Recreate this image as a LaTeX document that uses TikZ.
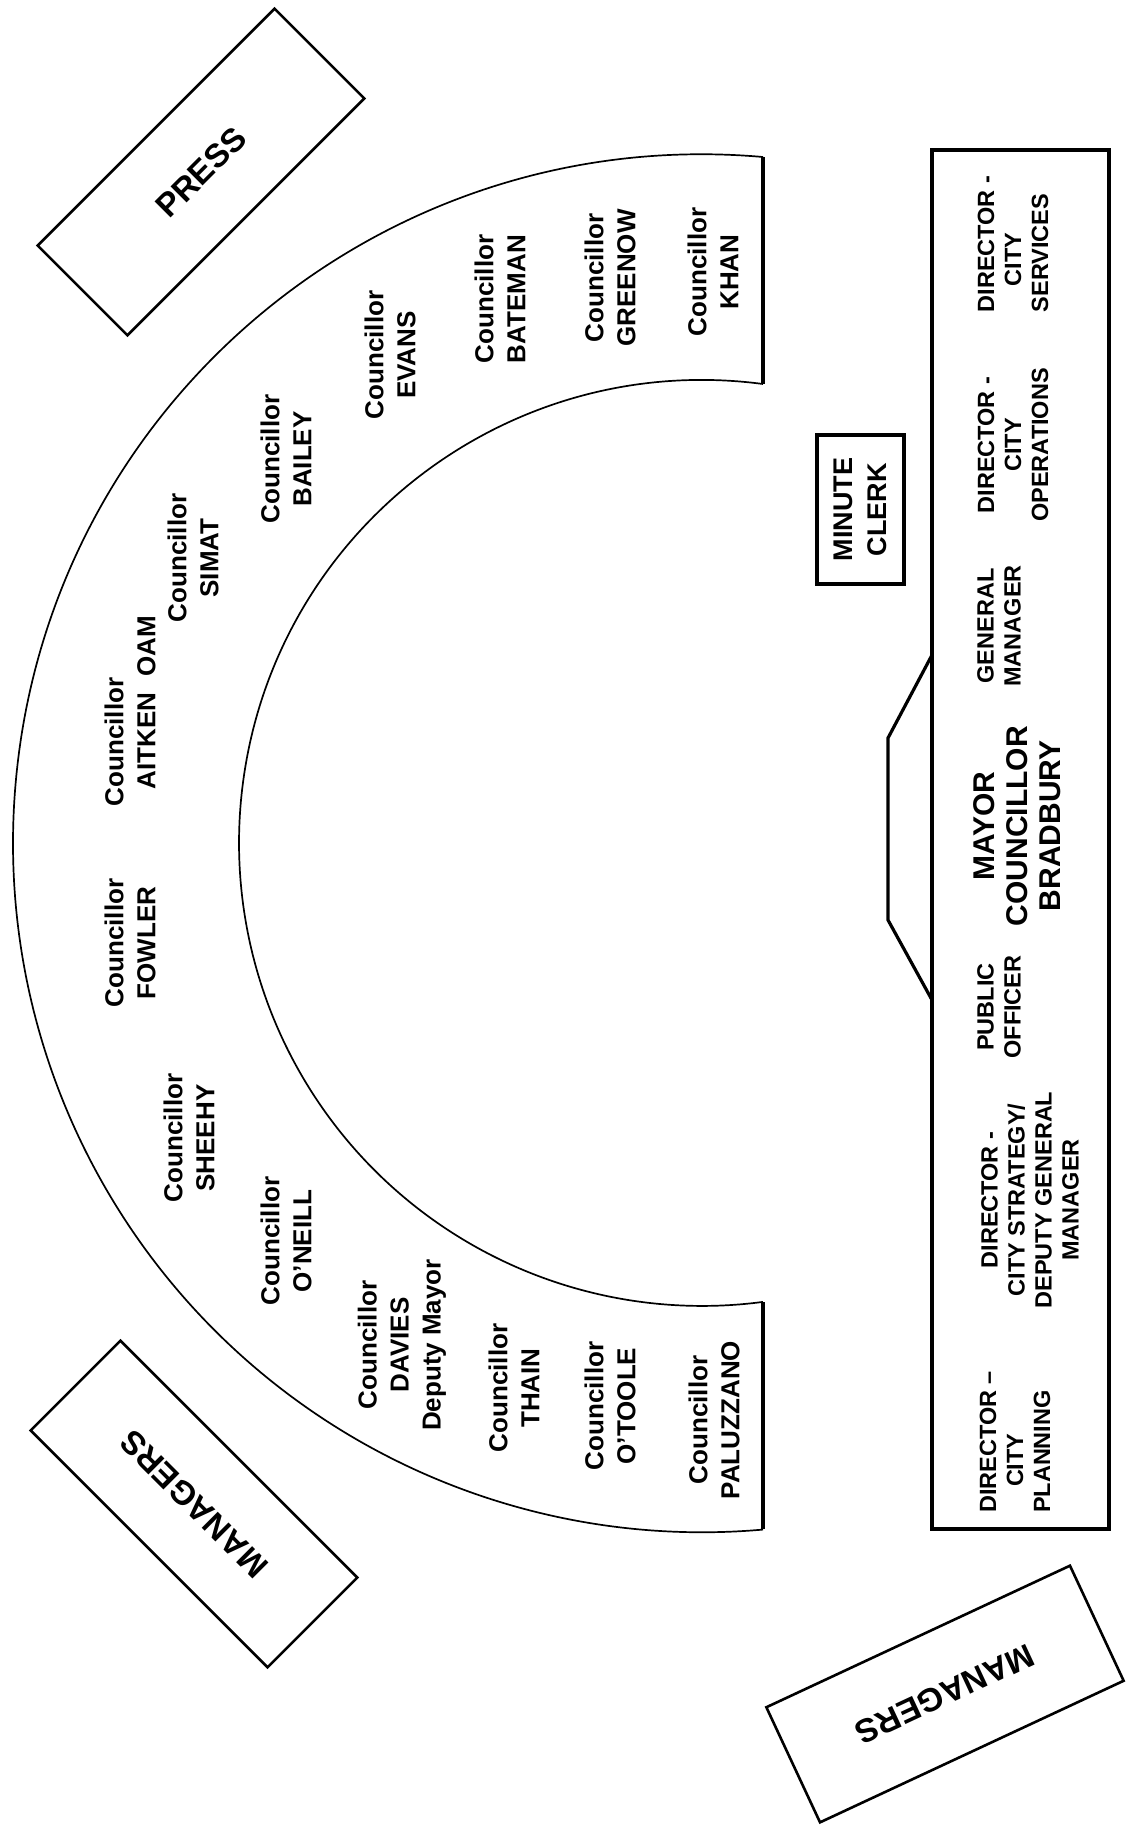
\documentclass[tikz,border=0pt]{standalone}
\usepackage{fontspec}
\setmainfont{Liberation Sans}
\newcommand\seatfont{\bfseries\fontsize{13}{16}\selectfont}
\newcommand\stafffont{\bfseries\fontsize{11.75}{13.5}\selectfont}
\newcommand\mayorfont{\bfseries\fontsize{15}{16.5}\selectfont}
\newcommand\clerkfont{\bfseries\fontsize{13.5}{17}\selectfont}
\newcommand\sidefont{\bfseries\fontsize{16.5}{20}\selectfont}
\tikzset{
  seat/.style={font=\seatfont, align=center, rotate=90, inner sep=0pt},
  staff/.style={font=\stafffont, align=center, rotate=90, inner sep=0pt},
  sidebox/.style={draw, line width=1.3pt, minimum width=167.5pt, minimum height=63.5pt, font=\sidefont, inner sep=0pt},
  thinline/.style={line width=0.85pt},
  thickline/.style={line width=1.6pt}
}

\begin{document}
\begin{tikzpicture}[x=0.5pt, y=-0.5pt]
  \useasboundingbox (0,0) rectangle (1131,1832);
  % horseshoe
  \draw[thinline] (763,157) arc[start angle=-84.92, end angle=-275.08, radius=689];
  \draw[thinline] (763,384) arc[start angle=-82.43, end angle=-277.57, radius=463];
  \draw[thickline] (763,157) -- (763,384);
  \draw[thickline] (763,1302) -- (763,1529);
  \node (khan) [seat] at (713,272) {Councillor\\KHAN};
  \node (greenow) [seat] at (610,278) {Councillor\\GREENOW};
  \node (bateman) [seat] at (500,299) {Councillor\\BATEMAN};
  \node (evans) [seat] at (390,355) {Councillor\\EVANS};
  \node (bailey) [seat] at (286,459) {Councillor\\BAILEY};
  \node (simat) [seat] at (193,558) {Councillor\\SIMAT};
  \node (aitken) [seat, align=left] at (130,711) {Councillor\\\hspace*{8.5pt}AITKEN\hspace{8pt}OAM};
  \node (fowler) [seat] at (130,943) {Councillor\\FOWLER};
  \node (sheehy) [seat] at (189,1138) {Councillor\\SHEEHY};
  \node (oneill) [seat] at (286,1241) {Councillor\\O'NEILL};
  \node (davies) [seat] at (402,1345) {Councillor\\DAVIES\\Deputy Mayor};
  \node (thain) [seat] at (514,1388) {Councillor\\THAIN};
  \node (otoole) [seat] at (610,1406) {Councillor\\O'TOOLE};
  \node (paluzzano) [seat] at (714,1420) {Councillor\\PALUZZANO};
  % top table
  \draw[thickline] (932,150) rectangle (1109,1529);
  \draw[thickline] (932,655) -- (888,738) -- (888,920) -- (932,1000);
  \node (clerk) [draw, thickline, rotate=90, align=center, font=\clerkfont, minimum width=74.5pt, minimum height=43.5pt, inner sep=0pt] at (860.5,509.5) {MINUTE\\CLERK};
  \node (services) [staff, align=left] at (1013,244) {DIRECTOR -\\\hspace*{13pt}CITY\\SERVICES};
  \node (operations) [staff] at (1013,445) {DIRECTOR -\\CITY\\OPERATIONS};
  \node (gm) [staff] at (999,626) {GENERAL\\MANAGER};
  \node (mayor) [staff, font=\mayorfont] at (1017,826) {MAYOR\\COUNCILLOR\\BRADBURY};
  \node (publicofficer) [staff] at (999,1007) {PUBLIC\\OFFICER};
  \node (strategy) [staff] at (1030,1200) {DIRECTOR -\\CITY STRATEGY/\\DEPUTY GENERAL\\MANAGER};
  \node (planning) [staff, align=left] at (1015,1442) {DIRECTOR \textendash\\\hspace*{13pt}CITY\\PLANNING};
  % side boxes
  \node (press) [sidebox, rotate=45] at (201,172) {PRESS};
  \node (mgrleft) [sidebox, rotate=135] at (194,1504) {MANAGERS};
  \node (mgrbottom) [sidebox, rotate=205] at (945,1694) {MANAGERS};
\end{tikzpicture}
\end{document}
